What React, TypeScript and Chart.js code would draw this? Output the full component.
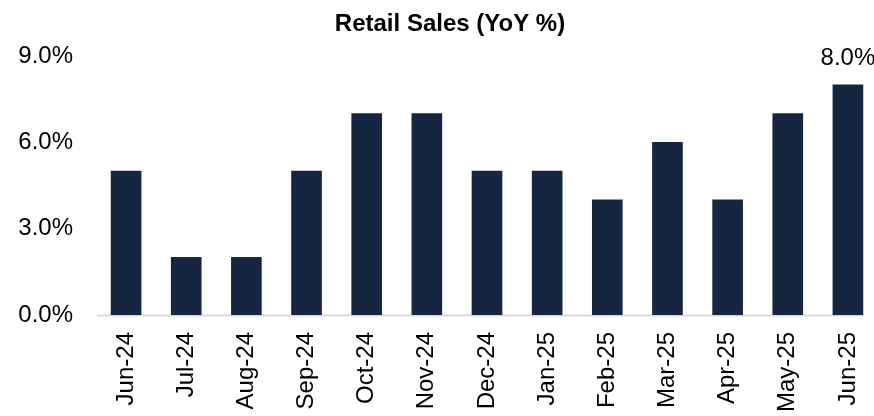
import { useEffect, useRef } from "react";
import { Chart, registerables } from "chart.js";

Chart.register(...registerables);

const chartTitle = "Retail Sales (YoY %)";
const months = [
  "Jun-24", "Jul-24", "Aug-24", "Sep-24", "Oct-24", "Nov-24", "Dec-24",
  "Jan-25", "Feb-25", "Mar-25", "Apr-25", "May-25", "Jun-25",
];
const yoyValues = [5, 2, 2, 5, 7, 7, 5, 5, 4, 6, 4, 7, 8];
const yTickValues = [0, 3, 6, 9];
const annotatedMonths = ["Jun-25"];

const FONT = '"Liberation Sans", Arial, sans-serif';
const BAR_COLOR = "#172640";

export default function App() {
  const ref = useRef<HTMLCanvasElement>(null);

  useEffect(() => {
    document.body.style.margin = "0";
    const canvas = ref.current;
    if (!canvas) return;

    const customPlugin = {
      id: "customDecor",
      beforeDatasetsDraw(chart: any) {
        const ctx = chart.ctx;
        const area = chart.chartArea;
        const meta = chart.getDatasetMeta(0);
        const last = meta.data[meta.data.length - 1];
        const props = last.getProps(["x", "width"], true);
        ctx.save();
        ctx.strokeStyle = "#d9d9d9";
        ctx.lineWidth = 2;
        ctx.beginPath();
        ctx.moveTo(area.left + 1, area.bottom + 0.5);
        ctx.lineTo(props.x + props.width / 2 + 1, area.bottom + 0.5);
        ctx.stroke();
        ctx.restore();
      },
      afterDraw(chart: any) {
        const ctx = chart.ctx;
        const meta = chart.getDatasetMeta(0);
        ctx.save();
        ctx.fillStyle = "#000";
        ctx.font = `bold 24px ${FONT}`;
        ctx.textAlign = "center";
        ctx.textBaseline = "middle";
        ctx.fillText(chartTitle, 450, 24);

        ctx.font = `24px ${FONT}`;
        meta.data.forEach((bar: any, i: number) => {
          if (annotatedMonths.includes(months[i])) {
            const p = bar.getProps(["x", "y"], true);
            ctx.fillText(yoyValues[i].toFixed(1) + "%", p.x, p.y - 26);
          }
        });
        ctx.restore();
      },
    };

    const chart = new Chart(canvas, {
      type: "bar",
      data: {
        labels: months,
        datasets: [
          {
            data: yoyValues,
            backgroundColor: BAR_COLOR,
            borderWidth: 0,
            barThickness: 30,
            categoryPercentage: 1,
          },
        ],
      },
      options: {
        responsive: false,
        animation: false,
        devicePixelRatio: 1,
        layout: { padding: { top: 56, left: 0, right: 0, bottom: 0 } },
        plugins: {
          legend: { display: false },
          title: { display: false },
          tooltip: { enabled: false },
        },
        scales: {
          x: {
            grid: { display: false, drawTicks: false },
            border: { display: false },
            ticks: {
              color: "#000",
              font: { family: FONT, size: 24 },
              minRotation: 90,
              maxRotation: 90,
              autoSkip: false,
              padding: 17,
            },
            afterFit(scale: any) {
              scale.height = 101;
              scale.paddingRight = 0;
              scale.paddingLeft = 0;
            },
          },
          y: {
            min: 0,
            max: 9,
            grid: { display: false, drawTicks: false },
            border: { display: false },
            afterBuildTicks(scale: any) {
              scale.ticks = yTickValues.map((v) => ({ value: v }));
            },
            ticks: {
              color: "#000",
              font: { family: FONT, size: 24 },
              padding: 23,
              callback: (v: any) => Number(v).toFixed(1) + "%",
            },
            afterFit(scale: any) {
              scale.width = 96;
            },
          },
        },
      },
      plugins: [customPlugin],
    });

    return () => chart.destroy();
  }, []);

  return (
    <div
      style={{
        position: "fixed",
        left: 0,
        top: 0,
        width: 874,
        height: 416,
        overflow: "hidden",
        background: "#fff",
      }}
    >
      <canvas ref={ref} width={878} height={416} style={{ width: 878, height: 416, display: "block" }} />
    </div>
  );
}
